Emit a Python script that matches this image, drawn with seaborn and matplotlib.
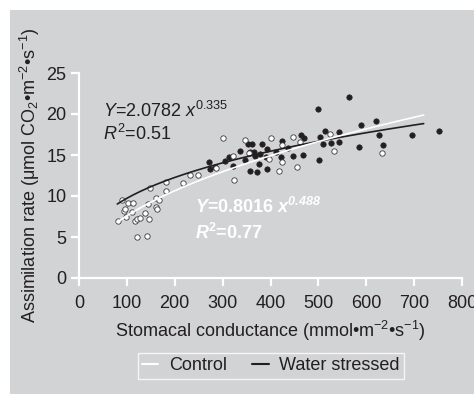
import numpy as np
import pandas as pd
import seaborn as sns
import matplotlib.pyplot as plt
from matplotlib.patches import Rectangle
from matplotlib.lines import Line2D

# stomatal conductance (x) and assimilation rate (y)
control_x = [81, 90, 93, 96, 98, 102, 111, 113, 117, 122, 127, 122, 143, 138, 147,
             145, 149, 161, 168, 161, 162, 181, 181, 218, 232, 249, 287, 301, 322,
             323, 347, 355, 396, 402, 417, 424, 425, 446, 456, 461, 524, 533, 632]
control_y = [6.9, 9.5, 8.2, 8.4, 7.5, 9.1, 8.0, 9.1, 7.0, 7.2, 7.3, 5.0, 5.1, 7.9, 7.2,
             9.0, 11.0, 9.8, 9.5, 8.7, 8.4, 10.6, 11.7, 11.6, 12.6, 12.6, 13.4, 17.1, 14.9,
             12.0, 16.8, 15.3, 14.5, 17.1, 13.0, 14.2, 16.2, 17.2, 13.5, 16.6, 17.6, 15.5, 15.2]

stressed_x = [271, 273, 284, 306, 313, 322, 336, 347, 352, 361, 357, 366, 367, 379, 383,
              392, 390, 376, 357, 372, 392, 412, 421, 425, 437, 446, 463, 470, 467, 501,
              503, 509, 514, 499, 526, 543, 543, 565, 584, 590, 621, 627, 636, 696, 753]
stressed_y = [14.2, 13.3, 13.5, 14.3, 14.7, 13.6, 15.5, 14.4, 16.3, 16.4, 15.4, 15.4, 14.9, 15.1, 16.4,
              15.7, 14.7, 13.9, 13.1, 12.9, 13.3, 15.4, 14.7, 16.7, 15.8, 14.9, 17.5, 17.1, 15.0, 14.4,
              17.2, 16.3, 17.9, 20.6, 16.5, 16.6, 17.8, 22.1, 16.0, 18.7, 19.1, 17.4, 16.2, 17.4, 17.9]

# power fits printed on the chart: Y = a * x^b
control_fit = (0.8016, 0.488)
stressed_fit = (2.0782, 0.335)
fit_range = (80, 720)

bg = '#d2d3d5'
ink = '#231f20'

sns.set_theme(style='ticks')
plt.rcParams['font.family'] = ['Liberation Sans', 'DejaVu Sans']
plt.rcParams['mathtext.fontset'] = 'custom'
plt.rcParams['mathtext.rm'] = 'Liberation Sans'
plt.rcParams['mathtext.it'] = 'Liberation Sans:italic'
plt.rcParams['mathtext.bf'] = 'Liberation Sans:bold'
plt.rcParams['mathtext.bfit'] = 'Liberation Sans:italic:bold'

fig = plt.figure(figsize=(4.74, 3.94), dpi=100, facecolor='white')
fig.patches.append(Rectangle((10 / 474, 0), 1, (394 - 10) / 394, transform=fig.transFigure,
                             facecolor=bg, edgecolor='none', zorder=-5))
ax = fig.add_axes([79 / 474, 116 / 394, (462 - 79) / 474, (321 - 116) / 394])
ax.set_facecolor(bg)
ax.set_zorder(2)

df_c = pd.DataFrame({'x': control_x, 'y': control_y})
df_s = pd.DataFrame({'x': stressed_x, 'y': stressed_y})

xs = np.linspace(fit_range[0], fit_range[1], 200)
fit_c = pd.DataFrame({'x': xs, 'y': control_fit[0] * xs ** control_fit[1]})
fit_s = pd.DataFrame({'x': xs, 'y': stressed_fit[0] * xs ** stressed_fit[1]})

sns.scatterplot(data=df_s, x='x', y='y', ax=ax, color=ink, s=15, edgecolor=ink,
                linewidth=0.5, zorder=3, clip_on=False)
sns.scatterplot(data=df_c, x='x', y='y', ax=ax, color='white', s=15, edgecolor='#3a3a3a',
                linewidth=0.6, zorder=4, clip_on=False)
sns.lineplot(data=fit_s, x='x', y='y', ax=ax, color=ink, linewidth=1.2, zorder=5)
sns.lineplot(data=fit_c, x='x', y='y', ax=ax, color='white', linewidth=1.2, zorder=5)

ax.set_xlim(0, 800)
ax.set_ylim(0, 25)
ax.set_xticks(range(0, 801, 100))
ax.set_yticks(range(0, 26, 5))
for side in ['top', 'right']:
    ax.spines[side].set_visible(False)
for side in ['left', 'bottom']:
    ax.spines[side].set_color('white')
    ax.spines[side].set_linewidth(1.6)
ax.tick_params(colors='white', labelcolor=ink, labelsize=13, length=6, width=1.6, pad=3)
ax.tick_params(axis='x', pad=6)

ax.set_xlabel(r'Stomacal conductance (mmol•m$^{-2}$•s$^{-1}$)', fontsize=13, color=ink, labelpad=5)
ax.set_ylabel(r'Assimilation rate (μmol CO$_2$•m$^{-2}$•s$^{-1}$)', fontsize=13, color=ink, labelpad=3)

ax.text(50, 19.6, r'$\mathit{Y}$=2.0782 $\mathit{x}^{\mathit{0.335}}$', fontsize=13, color=ink,
        va='baseline', ha='left')
ax.text(50, 16.8, r'$\mathit{R}^{2}$=0.51', fontsize=13, color=ink, va='baseline', ha='left')
ax.text(242, 7.9, r'$\mathbfit{Y}$=0.8016 $\mathbfit{x}^{\mathbfit{0.488}}$', fontsize=13,
        color='white', fontweight='bold', va='baseline', ha='left')
ax.text(242, 4.75, r'$\mathbfit{R}^{\mathbf{2}}$=0.77', fontsize=13, color='white',
        fontweight='bold', va='baseline', ha='left')

handles = [Line2D([], [], color='white', linewidth=1.5),
           Line2D([], [], color=ink, linewidth=1.5)]
leg = fig.legend(handles, ['Control', 'Water stressed'], loc='center',
                 bbox_to_anchor=(271 / 474, (394 - 366) / 394), ncol=2, fontsize=13,
                 frameon=True, fancybox=False, facecolor=bg, edgecolor='white',
                 handlelength=0.9, handletextpad=0.6, columnspacing=1.4,
                 borderpad=0.25, labelcolor=ink)
leg.get_frame().set_linewidth(1.0)

fig.savefig('out.png', dpi=100, facecolor='white')
